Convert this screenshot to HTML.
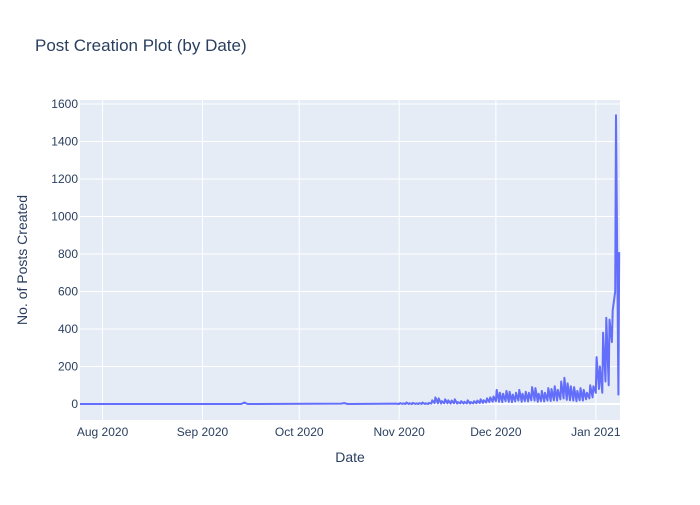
<!DOCTYPE html>
<html><head><meta charset="utf-8"><style>
body{margin:0;background:#fff;font-family:"Liberation Sans","DejaVu Sans",sans-serif}
text{font-family:"Liberation Sans","DejaVu Sans",sans-serif}
</style></head><body>
<svg id="chart" width="700" height="500">
<rect width="700" height="500" fill="#fff"/>
<text x="35" y="51" font-size="17" fill="#2a3f5f">Post Creation Plot (by Date)</text>
<rect x="80" y="100" width="540" height="320" fill="#e5ecf6"/>
<g id="grid"></g><g id="ticks"></g>
<path id="line" fill="none" stroke="#636efa" stroke-width="2" stroke-linejoin="round"/>
<text x="350" y="462" font-size="14" fill="#2a3f5f" text-anchor="middle">Date</text>
<text x="27" y="260" font-size="14" fill="#2a3f5f" text-anchor="middle" transform="rotate(-90 27 260)">No. of Posts Created</text>
</svg>
<script>
const earlyDates=["2020-07-25","2020-09-13","2020-09-14","2020-09-15","2020-10-14","2020-10-15","2020-10-16","2020-10-31"];
const earlyValues=[0,0,8,0,2,5,0,2];
const days=["2020-11-01","2020-11-02","2020-11-03","2020-11-04","2020-11-05","2020-11-06","2020-11-07","2020-11-08","2020-11-09","2020-11-10",
"2020-11-11","2020-11-12","2020-11-13","2020-11-14","2020-11-15","2020-11-16","2020-11-17","2020-11-18","2020-11-19","2020-11-20",
"2020-11-21","2020-11-22","2020-11-23","2020-11-24","2020-11-25","2020-11-26","2020-11-27","2020-11-28","2020-11-29","2020-11-30",
"2020-12-01","2020-12-02","2020-12-03","2020-12-04","2020-12-05","2020-12-06","2020-12-07","2020-12-08","2020-12-09","2020-12-10",
"2020-12-11","2020-12-12","2020-12-13","2020-12-14","2020-12-15","2020-12-16","2020-12-17","2020-12-18","2020-12-19","2020-12-20",
"2020-12-21","2020-12-22","2020-12-23","2020-12-24","2020-12-25","2020-12-26","2020-12-27","2020-12-28","2020-12-29","2020-12-30","2020-12-31",
"2021-01-01","2021-01-02","2021-01-03","2021-01-04","2021-01-05","2021-01-06","2021-01-07","2021-01-08"];
const highs=[5,3,8,4,6,3,5,8,4,6, 20,35,30,15,25,20,18,25,10,15, 12,20,10,15,18,25,20,30,35,40,
75,60,55,70,65,50,60,75,55,65, 60,90,85,55,70,60,85,80,95,75, 120,140,110,95,90,70,85,75,60,100,95,
250,200,380,460,450,500,1540,810];
const lows=[0,0,0,0,0,0,0,0,0,0, 2,5,3,2,4,3,2,4,2,3, 2,3,2,3,4,5,6,8,10,12,
15,12,10,15,12,10,14,18,12,15, 14,20,18,12,15,14,18,16,20,18, 25,30,22,20,18,15,20,18,25,30,35,
60,80,60,120,100,330,600,50];
const yTicks=[0,200,400,600,800,1000,1200,1400,1600];
const xTickDates=["2020-08-01","2020-09-01","2020-10-01","2020-11-01","2020-12-01","2021-01-01"];
const xTickLabels=["Aug 2020","Sep 2020","Oct 2020","Nov 2020","Dec 2020","Jan 2021"];
const x0=Date.parse("2020-07-25T00:00Z"),x1=Date.parse("2021-01-08T12:00Z");
const X=t=>80+(t-x0)/(x1-x0)*540;
const Y=v=>404-v/1600*300;
const NS="http://www.w3.org/2000/svg";
const grid=document.getElementById('grid'),ticks=document.getElementById('ticks');
yTicks.forEach(v=>{
 const l=document.createElementNS(NS,'line');
 l.setAttribute('x1',80);l.setAttribute('x2',620);l.setAttribute('y1',Y(v));l.setAttribute('y2',Y(v));
 l.setAttribute('stroke','#fff');l.setAttribute('stroke-width',v===0?2:1);
 
 
 grid.appendChild(l);
 const t=document.createElementNS(NS,'text');
 t.setAttribute('x',78);t.setAttribute('y',Y(v)+4);t.setAttribute('text-anchor','end');
 t.setAttribute('font-size','12');t.setAttribute('fill','#2a3f5f');t.textContent=v;
 
 
 ticks.appendChild(t);
});
xTickDates.forEach((d,i)=>{
 const x=X(Date.parse(d+"T00:00Z"));
 const l=document.createElementNS(NS,'line');
 l.setAttribute('x1',x);l.setAttribute('x2',x);l.setAttribute('y1',100);l.setAttribute('y2',420);
 l.setAttribute('stroke','#fff');
 
 
 grid.appendChild(l);
 const t=document.createElementNS(NS,'text');
 t.setAttribute('x',x);t.setAttribute('y',436);t.setAttribute('text-anchor','middle');
 t.setAttribute('font-size','12');t.setAttribute('fill','#2a3f5f');t.textContent=xTickLabels[i];
 
 
 ticks.appendChild(t);
});
const pts=[];
earlyDates.forEach((d,i)=>pts.push([X(Date.parse(d+"T00:00Z")),Y(earlyValues[i])]));
days.forEach((d,i)=>{
 const t=Date.parse(d+"T00:00Z");
 pts.push([X(t),Y(lows[i])]);
 pts.push([X(t+6*3600e3),Y(highs[i])]);
});
document.getElementById('line').setAttribute('d','M'+pts.map(p=>p[0].toFixed(1)+','+p[1].toFixed(1)).join('L'));
</script>
</body></html>
